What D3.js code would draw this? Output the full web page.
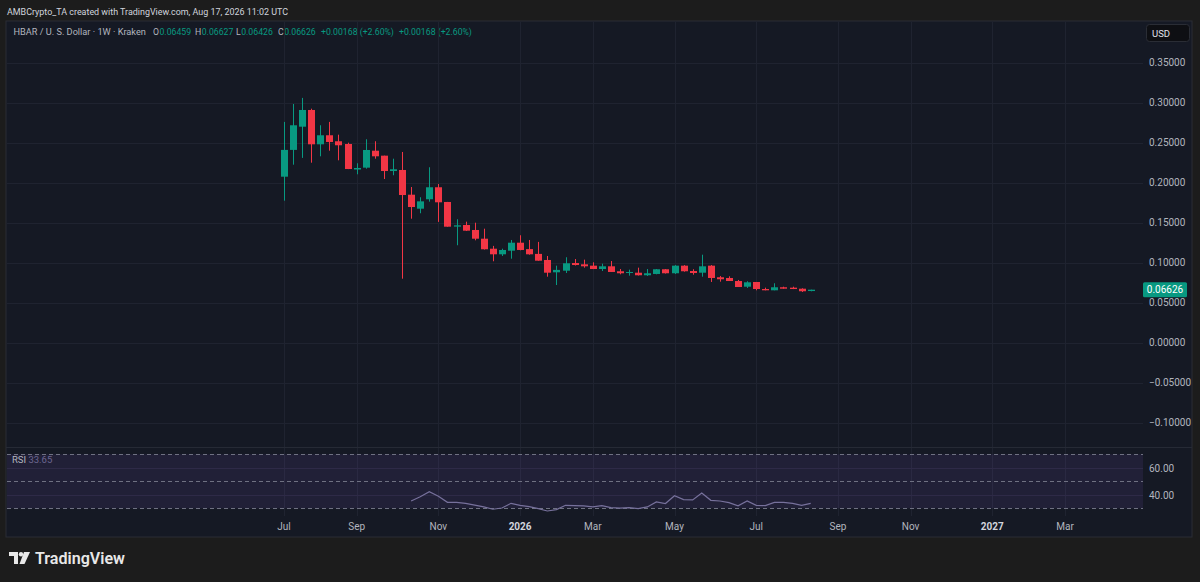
<!DOCTYPE html>
<html><head><meta charset="utf-8">
<script src="https://cdn.jsdelivr.net/npm/d3@7"></script>
<style>
html,body{margin:0;padding:0;background:#1c1c1c;}
svg{display:block;}
text{font-family:Roboto,"Noto Sans",sans-serif;}
</style></head>
<body>
<svg id="c" width="1200" height="582"></svg>
<script>
// ---------- DATA ----------
const firstWeek = "2025-07-07";
const opens  = [0.2075,0.2410,0.2700,0.2909,0.2480,0.2593,0.2518,0.2484,0.2165,0.2188,0.2400,0.2338,0.2146,0.2159,0.1850,
                0.1675,0.1793,0.1943,0.1759,0.1451,0.1471,0.1409,0.1300,0.1175,0.1105,0.1150,0.1250,0.1170,0.1110,0.1034,
                0.0880,0.0900,0.0996,0.0980,0.0963,0.0921,0.0955,0.0893,0.0879,0.0875,0.0843,0.0859,0.0918,0.0868,0.0963,
                0.0896,0.0875,0.0963,0.0818,0.0809,0.0771,0.0700,0.0759,0.0671,0.0655,0.0693,0.0688,0.0675,0.06459];
const highs  = [0.2760,0.2984,0.3060,0.2925,0.2718,0.2760,0.2600,0.2500,0.2243,0.2543,0.2518,0.2338,0.2300,0.2384,0.1946,
                0.1818,0.2193,0.1984,0.1760,0.1543,0.1513,0.1500,0.1425,0.1210,0.1175,0.1284,0.1343,0.1284,0.1260,0.1084,
                0.0963,0.1068,0.1046,0.1038,0.1005,0.0988,0.1021,0.0921,0.0913,0.0938,0.0921,0.0921,0.0921,0.0970,0.0970,
                0.0918,0.1100,0.0971,0.0834,0.0830,0.0784,0.0768,0.0759,0.0688,0.0743,0.0700,0.0700,0.0680,0.06627];
const lows   = [0.1775,0.2225,0.2310,0.2250,0.2330,0.2400,0.2280,0.2170,0.2105,0.2175,0.2300,0.2046,0.2093,0.0800,0.1550,
                0.1618,0.1763,0.1510,0.1450,0.1218,0.1396,0.1280,0.1165,0.1018,0.1084,0.1050,0.1155,0.1100,0.1025,0.0825,
                0.0721,0.0871,0.0965,0.0938,0.0920,0.0896,0.0884,0.0855,0.0838,0.0840,0.0834,0.0855,0.0865,0.0859,0.0888,
                0.0850,0.0825,0.0759,0.0763,0.0771,0.0696,0.0684,0.0655,0.0655,0.0655,0.0675,0.0670,0.0634,0.06426];
const closes = [0.2410,0.2718,0.2909,0.2480,0.2593,0.2509,0.2468,0.2171,0.2184,0.2409,0.2330,0.2146,0.2168,0.1846,0.1696,
                0.1767,0.1943,0.1755,0.1450,0.1467,0.1400,0.1300,0.1168,0.1105,0.1159,0.1250,0.1159,0.1105,0.1025,0.0875,
                0.0910,0.0993,0.0971,0.0955,0.0921,0.0955,0.0884,0.0868,0.0884,0.0843,0.0868,0.0918,0.0868,0.0963,0.0893,
                0.0871,0.0955,0.0809,0.0793,0.0771,0.0696,0.0755,0.0671,0.0655,0.0693,0.0675,0.0671,0.0643,0.06626];
// RSI starts at bar 14
const rsiStart = 14;
const rsiValues = [35.4,38.6,42.3,38.9,34.4,34.4,33.7,32.4,31.0,29.3,30.2,33.7,32.2,31.2,29.7,28.0,29.0,32.2,32.0,31.8,
                   31.0,32.0,30.5,30.2,30.5,29.7,31.0,34.7,33.5,39.3,36.4,36.2,41.3,35.9,35.4,34.2,31.8,35.4,32.2,32.0,
                   34.4,34.4,33.7,32.2,33.65];
const priceTicks = [0.35,0.30,0.25,0.20,0.15,0.10,0.05,0.00,-0.05,-0.10];
const rsiTicks = [60,40];
const rsiBands = [70,50,30];
const timeTicks = [["2025-07-07","Jul"],["2025-09-01","Sep"],["2025-11-03","Nov"],["2026-01-05","2026"],["2026-03-02","Mar"],
                   ["2026-05-04","May"],["2026-07-06","Jul"],["2026-09-07","Sep"],["2026-11-02","Nov"],["2027-01-04","2027"],["2027-03-01","Mar"]];
const lastPrice = 0.06626;
const legendItems = [
  {label:"HBAR / U. S. Dollar · 1W · Kraken", value:""},
  {label:"O", value:"0.06459"}, {label:"H", value:"0.06627"}, {label:"L", value:"0.06426"}, {label:"C", value:"0.06626"},
  {label:"", value:"+0.00168 (+2.60%)"}, {label:"", value:"+0.00168 (+2.60%)"}
];

// ---------- LAYOUT ----------
const svg = d3.select("#c");
const W = 1200, H = 582;
const pane = {x0:6, x1:1192, y0:21, y1:537};
const plotRight = 1143;
const priceTop = 21, priceBottom = 447;
const rsiTop = 447, rsiBottom = 516;
const GREEN = "#089981", RED = "#f23645";
const parse = d3.utcParse("%Y-%m-%d");

const weeks = d3.range(opens.length).map(i => d3.utcDay.offset(parse(firstWeek), 7*i));
const bars = weeks.map((d,i)=>({date:d,o:opens[i],h:highs[i],l:lows[i],c:closes[i]}));

const x = d3.scaleUtc().domain([parse("2025-07-07"), parse("2027-03-01")]).range([284, 1065]);
const y = d3.scaleLinear().domain([(342.7-priceBottom)/800, (342.7-priceTop)/800]).range([priceBottom, priceTop]);
const yr = d3.scaleLinear().domain([30,70]).range([508.3,454.3]);

// background
svg.append("rect").attr("width",W).attr("height",H).attr("fill","#1c1c1c");
svg.append("rect").attr("x",pane.x0).attr("y",pane.y0).attr("width",pane.x1-pane.x0).attr("height",pane.y1-pane.y0)
  .attr("fill","#151924").attr("stroke","#2a2d35").attr("stroke-width",1);

// header text
svg.append("text").attr("x",7).attr("y",14.5).attr("fill","#d1d4dc").attr("font-size",9.6)
  .attr("textLength",281).attr("lengthAdjust","spacingAndGlyphs")
  .text("AMBCrypto_TA created with TradingView.com, Aug 17, 2026 11:02 UTC");

// legend line (positions of each item)
const legX = [13.5,153,195,236,278,321,399];
const lg2 = svg.append("g");
legendItems.forEach((it,k)=>{
  let xx = legX[k];
  const fs = k===0 ? 9.2 : 8.7;
  if (it.label) {
    const t = lg2.append("text").attr("x",xx).attr("y",35).attr("font-size",fs).attr("fill","#b2b5be").text(it.label);
    xx += t.node().getComputedTextLength() + 0.5;
  }
  if (it.value) lg2.append("text").attr("x",xx).attr("y",35).attr("font-size",fs).attr("fill",GREEN).text(it.value);
});

// grid - horizontal price
const grid = svg.append("g").attr("stroke","#1f2330").attr("stroke-width",1);
grid.selectAll("line.h").data(priceTicks).join("line")
  .attr("x1",pane.x0+1).attr("x2",plotRight).attr("y1",d=>Math.round(y(d))+0.5).attr("y2",d=>Math.round(y(d))+0.5);
// vertical grid
grid.selectAll("line.v").data(timeTicks).join("line")
  .attr("x1",d=>Math.round(x(parse(d[0])))+0.5).attr("x2",d=>Math.round(x(parse(d[0])))+0.5)
  .attr("y1",pane.y0+1).attr("y2",rsiBottom);

// pane separator
svg.append("line").attr("x1",pane.x0).attr("x2",pane.x1).attr("y1",rsiTop+0.5).attr("y2",rsiTop+0.5).attr("stroke","#262a35");

// RSI band
svg.append("rect").attr("x",pane.x0+1).attr("width",plotRight-pane.x0-1)
  .attr("y",yr(70)).attr("height",yr(30)-yr(70)).attr("fill","rgba(126,87,194,0.12)");
svg.append("g").selectAll("line").data(rsiTicks).join("line")
  .attr("x1",pane.x0+1).attr("x2",plotRight).attr("y1",d=>Math.round(yr(d))+0.5).attr("y2",d=>Math.round(yr(d))+0.5)
  .attr("stroke","#2e2a47");
svg.append("g").selectAll("line").data(rsiBands).join("line")
  .attr("x1",pane.x0+1).attr("x2",plotRight).attr("y1",d=>Math.round(yr(d))+0.5).attr("y2",d=>Math.round(yr(d))+0.5)
  .attr("stroke","#6f7182").attr("stroke-dasharray","4,3");

// candles
const bw = 7;
const cg = svg.append("g");
cg.selectAll("line.w").data(bars).join("line")
  .attr("x1",d=>Math.round(x(d.date))+0.5).attr("x2",d=>Math.round(x(d.date))+0.5)
  .attr("y1",d=>y(d.h)).attr("y2",d=>y(d.l))
  .attr("stroke",d=>d.c>=d.o?GREEN:RED).attr("stroke-width",1);
cg.selectAll("rect").data(bars).join("rect")
  .attr("x",d=>Math.round(x(d.date))-3)
  .attr("width",bw)
  .attr("y",d=>y(Math.max(d.o,d.c)))
  .attr("height",d=>Math.max(1,Math.abs(y(d.o)-y(d.c))))
  .attr("fill",d=>d.c>=d.o?GREEN:RED);

// RSI line
const rsiPts = rsiValues.map((v,k)=>({date:weeks[rsiStart+k], v}));
svg.append("path").datum(rsiPts)
  .attr("d", d3.line().x(d=>x(d.date)).y(d=>yr(d.v)))
  .attr("fill","none").attr("stroke","#77719c").attr("stroke-width",1.2);

// price axis labels
const yAxis = d3.axisRight(y).tickValues(priceTicks).tickFormat(d3.format(".5f")).tickSize(0).tickPadding(0);
const ya = svg.append("g").attr("transform",`translate(1149,0)`).call(yAxis);
ya.select(".domain").remove();
ya.selectAll("text").attr("fill","#b2b5be").attr("font-size",10).attr("font-family","Roboto,'Noto Sans',sans-serif")
  .text(d=>d3.format(".5f")(d).replace("-","−"));

// last price label
const lpY = y(lastPrice);
svg.append("rect").attr("x",1143).attr("y",lpY-7.5).attr("width",44).attr("height",15).attr("rx",1.5).attr("fill",GREEN);
svg.append("text").attr("x",1165).attr("y",lpY+3.6).attr("text-anchor","middle").attr("fill","#ffffff")
  .attr("font-size",10).text(d3.format(".5f")(lastPrice));

// USD box
svg.append("rect").attr("x",1146.5).attr("y",24.5).attr("width",43).attr("height",17).attr("rx",3)
  .attr("fill","#0e0f13").attr("stroke","#2a2d35");
svg.append("text").attr("x",1152).attr("y",36.5).attr("fill","#e0e3eb").attr("font-size",9.5).text("USD");

// RSI axis labels
const rAxis = d3.axisRight(yr).tickValues(rsiTicks).tickFormat(d3.format(".2f")).tickSize(0).tickPadding(0);
const ra = svg.append("g").attr("transform","translate(1149,0)").call(rAxis);
ra.select(".domain").remove();
ra.selectAll("text").attr("fill","#b2b5be").attr("font-size",10).attr("font-family","Roboto,'Noto Sans',sans-serif");

// RSI legend
const rl = svg.append("text").attr("x",12).attr("y",463).attr("font-size",9.5).attr("xml:space","preserve");
rl.append("tspan").attr("fill","#b2b5be").text("RSI ");
rl.append("tspan").attr("fill","#6d6691").text("33.65");

// time axis
const xa = svg.append("g");
xa.selectAll("text").data(timeTicks).join("text")
  .attr("x",d=>x(parse(d[0]))).attr("y",530).attr("text-anchor","middle")
  .attr("fill",d=>/^\d{4}$/.test(d[1])?"#d1d4dc":"#b2b5be")
  .attr("font-weight",d=>/^\d{4}$/.test(d[1])?"bold":"normal")
  .attr("font-size",10).text(d=>d[1]);

// TradingView logo
const lg = svg.append("g").attr("transform","translate(9,552)").attr("fill","#e8e8e8");
lg.append("path").attr("d","M0 0 H9 V12 H5 V4 H0 Z");
lg.append("circle").attr("cx",12).attr("cy",2.2).attr("r",2.2);
lg.append("path").attr("d","M15 0 H21 L15.5 12 H10.5 Z");
svg.append("text").attr("x",35).attr("y",564).attr("fill","#e8e8e8").attr("font-size",16)
  .attr("font-weight",600).attr("textLength",90).attr("lengthAdjust","spacingAndGlyphs").text("TradingView");
</script>
</body></html>
